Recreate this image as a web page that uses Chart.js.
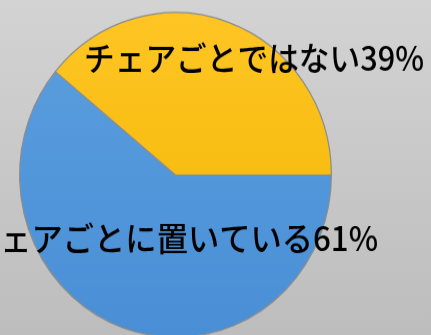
<!DOCTYPE html>
<html>
<head>
<meta charset="utf-8">
<script src="https://cdn.jsdelivr.net/npm/chart.js@4"></script>
<style>
html, body { margin: 0; padding: 0; width: 431px; height: 335px; overflow: hidden;
  background: linear-gradient(#d3d3d3, #bdbdbd); }
#wrap { width: 431px; height: 330px; transform: scaleY(1.0415); transform-origin: 0 0; }
canvas { display: block; }
</style>
</head>
<body>
<div id="wrap"><canvas id="c" width="431" height="330" style="width:431px;height:330px"></canvas></div>
<script>
// Data
const categories = ['チェアごとに置いている', 'チェアごとではない'];
const values = [61, 39];
const sliceColors = [['#5b9fdf', '#4a8fd6'], ['#ffc524', '#f0b600']];
// label layout (display px): [left, right, centerY]
const labelBoxes = [[-31, 378, 238], [84, 424, 58.5]];
const Y_SCALE = 1.0415;

const labelPlugin = {
  id: 'sliceLabels',
  afterDraw(chart) {
    const ctx = chart.ctx;
    ctx.save();
    ctx.font = '500 32px "Noto Sans CJK JP"';
    ctx.fillStyle = '#000';
    ctx.textBaseline = 'middle';
    ctx.textAlign = 'left';
    categories.forEach((c, i) => {
      const txt = c + values[i] + '%';
      const [l, r, cy] = labelBoxes[i];
      const w = ctx.measureText(txt).width;
      const sx = (r - l) / w;
      ctx.save();
      ctx.translate(l, cy / Y_SCALE);
      ctx.scale(sx, 1);
      ctx.fillText(txt, 0, 0);
      ctx.restore();
    });
    ctx.restore();
  }
};

function grad(ctx, i) {
  const area = ctx.chart.chartArea;
  if (!area) return sliceColors[i][0];
  const g = ctx.chart.ctx.createLinearGradient(0, area.top, 0, area.bottom);
  g.addColorStop(0, sliceColors[i][0]);
  g.addColorStop(1, sliceColors[i][1]);
  return g;
}

new Chart(document.getElementById('c'), {
  type: 'pie',
  data: {
    labels: categories,
    datasets: [{
      data: values,
      backgroundColor: (ctx) => grad(ctx, ctx.dataIndex),
      borderColor: '#8c8c8c',
      borderWidth: 1.2
    }]
  },
  options: {
    responsive: false,
    animation: false,
    rotation: 90,
    layout: { padding: { left: 19, right: 99, top: 11.5, bottom: 5.5 } },
    plugins: { legend: { display: false }, tooltip: { enabled: false } }
  },
  plugins: [labelPlugin]
});
</script>
</body>
</html>
